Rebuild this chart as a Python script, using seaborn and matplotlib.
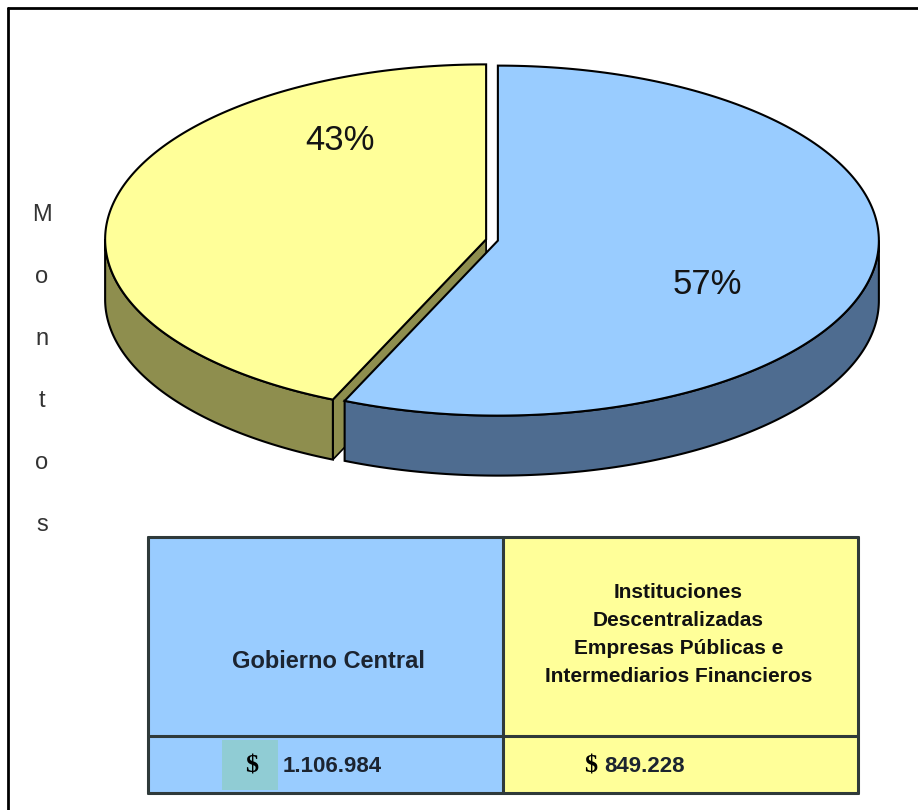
import numpy as np
import matplotlib
matplotlib.use("Agg")
import matplotlib.pyplot as plt
import seaborn as sns
from matplotlib.patches import Polygon, Rectangle

# Datos del gráfico
categorias = ["Gobierno Central",
              "Instituciones\nDescentralizadas\nEmpresas Públicas e\nIntermediarios Financieros"]
montos = [1106984, 849228]
montos_txt = ["1.106.984", "849.228"]
eje_titulo = "Montos"

color_top = ["#99CCFF", "#FFFF99"]
color_lado = ["#4E6C90", "#8E8E4E"]

sns.set_theme(style="white")
plt.rcParams['font.family'] = ['Liberation Sans', 'DejaVu Sans']

fig = plt.figure(figsize=(9.18, 8.10), dpi=100)
ax = fig.add_axes([0, 0, 1, 1])
ax.set_xlim(0, 918)
ax.set_ylim(810, 0)
ax.axis('off')

# marco (solo arriba e izquierda visibles)
ax.plot([8, 918], [8, 8], color='black', lw=2)
ax.plot([8, 8], [8, 810], color='black', lw=2)

# geometria del pie 3D
cx, cy = 492, 240
rx, ry = 381, 175
prof = 60
explode = 6

fracs = np.array(montos) / sum(montos)
# angulo en grados, en sentido horario desde las 12
inicio = np.concatenate([[0], np.cumsum(fracs)[:-1]]) * 360
fin = np.cumsum(fracs) * 360


def punto(phi, c):
    p = np.radians(phi)
    return c[0] + rx * np.sin(p), c[1] - ry * np.cos(p)


def arco(a, b, c, dy=0, n=200):
    p = np.radians(np.linspace(a, b, n))
    return np.column_stack([c[0] + rx * np.sin(p), c[1] - ry * np.cos(p) + dy])


centros = []
for a, b in zip(inicio, fin):
    mid = np.radians((a + b) / 2)
    centros.append((cx + explode * np.sin(mid), cy - explode * np.cos(mid) * 0.5))

# pared radial del segundo sector (visible entre los sectores)
c = centros[1]
px, py = punto(inicio[1], c)
pared = [(c[0], c[1]), (px, py), (px, py + prof), (c[0], c[1] + prof)]
ax.add_patch(Polygon(pared, closed=True, fc=color_lado[1], ec='black', lw=1.2, zorder=1))

# lados visibles (mitad inferior de la elipse)
for i, (a, b) in enumerate(zip(inicio, fin)):
    lo, hi = max(a, 90), min(b, 270)
    if lo >= hi:
        continue
    c = centros[i]
    sup = arco(lo, hi, c)
    inf = arco(lo, hi, c, dy=prof)[::-1]
    ax.add_patch(Polygon(np.vstack([sup, inf]), closed=True, fc=color_lado[i],
                         ec='black', lw=1.5, zorder=2))

# caras superiores
for i, (a, b) in enumerate(zip(inicio, fin)):
    c = centros[i]
    pts = np.vstack([[c], arco(a, b, c)])
    ax.add_patch(Polygon(pts, closed=True, fc=color_top[i], ec='black', lw=1.5, zorder=3))

# etiquetas de porcentaje
pos_pct = [(707, 285), (340, 140)]
for i, f in enumerate(fracs):
    ax.text(pos_pct[i][0], pos_pct[i][1], f"{round(f * 100):.0f}%", ha='center', va='center',
            fontsize=25, color='#141414', zorder=5)

# titulo vertical "Montos"
for k, letra in enumerate(eje_titulo):
    ax.text(42, 215 + k * 62, letra, ha='center', va='center', fontsize=17,
            color='#333333')

# tabla inferior
x0, xm, x1 = 148, 503, 858
y0, ym, y1 = 537, 736, 793
cols = [(x0, xm), (xm, x1)]
for i, (xa, xb) in enumerate(cols):
    ax.add_patch(Rectangle((xa, y0), xb - xa, y1 - y0, fc=color_top[i], ec='none', zorder=1))
ax.add_patch(Rectangle((222, 740), 56, 50, fc='#90CCD4', ec='none', zorder=2))
for yy in [y0, ym, y1]:
    ax.plot([x0, x1], [yy, yy], color='#2f3a3a', lw=2.2, zorder=3)
for xx in [x0, xm, x1]:
    ax.plot([xx, xx], [y0, y1], color='#2f3a3a', lw=2.2, zorder=3)

ax.text((x0 + xm) / 2 + 3, 662, categorias[0], ha='center', va='center', fontsize=17,
        fontweight='bold', color='#1c2430', zorder=4)
ax.text((xm + x1) / 2 - 2, 634, categorias[1], ha='center', va='center', fontsize=15,
        fontweight='bold', color='#111111', linespacing=1.6, zorder=4)

pos_val = [(252, 283), (591, 604)]
for i, txt in enumerate(montos_txt):
    ax.text(pos_val[i][0], 766, "$", ha='center', va='center', fontsize=19, fontweight='bold',
            color='black', family=['Liberation Serif'], zorder=4)
    ax.text(pos_val[i][1], 766, txt, ha='left', va='center', fontsize=16, fontweight='bold',
            color='#1c2430', zorder=4)

fig.savefig('out.png', dpi=100)
